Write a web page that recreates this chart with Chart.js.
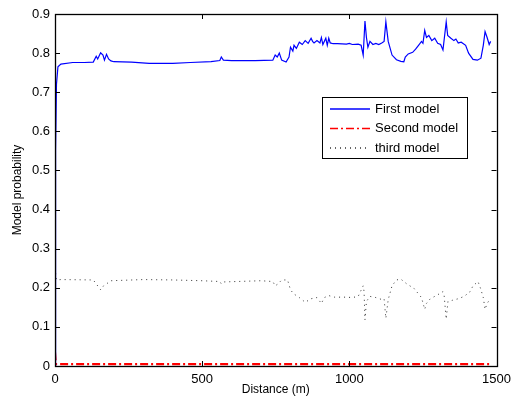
<!DOCTYPE html>
<html>
<head>
<meta charset="utf-8">
<script src="https://cdn.jsdelivr.net/npm/chart.js@4"></script>
<style>
  html, body { margin: 0; padding: 0; background: #fff; }
  #wrap { width: 517px; height: 405px; }
</style>
</head>
<body>
<div id="wrap"><canvas id="myChart" width="517" height="405"></canvas></div>
<script>
// Series data (distance in m, model probability)
const firstX = [0, 2, 5, 10, 20, 60, 100, 130, 140, 145, 155, 163, 168, 175, 182, 190, 200, 260, 320, 400, 460, 530, 560, 565, 572, 600, 680, 740, 748, 755, 762, 770, 785, 795, 800, 808, 812, 820, 830, 840, 850, 860, 870, 875, 880, 890, 900, 905, 910, 920, 925, 930, 935, 945, 960, 990, 1000, 1010, 1030, 1040, 1047, 1053, 1058, 1063, 1070, 1080, 1090, 1100, 1110, 1118, 1124, 1132, 1145, 1160, 1175, 1185, 1190, 1200, 1215, 1225, 1235, 1245, 1250, 1256, 1262, 1270, 1280, 1290, 1300, 1310, 1318, 1329, 1334, 1345, 1355, 1362, 1370, 1380, 1395, 1405, 1420, 1435, 1447, 1455, 1461, 1468, 1475, 1480];
const firstY = [0.0, 0.55, 0.72, 0.765, 0.772, 0.776, 0.776, 0.777, 0.792, 0.785, 0.801, 0.795, 0.782, 0.797, 0.785, 0.78, 0.778, 0.777, 0.774, 0.774, 0.776, 0.778, 0.781, 0.79, 0.782, 0.781, 0.781, 0.782, 0.795, 0.79, 0.80, 0.782, 0.777, 0.79, 0.815, 0.805, 0.82, 0.812, 0.828, 0.822, 0.832, 0.825, 0.838, 0.83, 0.826, 0.832, 0.826, 0.84, 0.822, 0.838, 0.82, 0.838, 0.826, 0.824, 0.824, 0.823, 0.825, 0.822, 0.823, 0.82, 0.795, 0.882, 0.84, 0.815, 0.83, 0.822, 0.825, 0.822, 0.826, 0.83, 0.880, 0.83, 0.795, 0.783, 0.779, 0.778, 0.79, 0.798, 0.802, 0.81, 0.82, 0.83, 0.825, 0.858, 0.84, 0.845, 0.832, 0.838, 0.825, 0.822, 0.808, 0.880, 0.845, 0.838, 0.832, 0.836, 0.826, 0.828, 0.82, 0.80, 0.784, 0.782, 0.787, 0.82, 0.855, 0.84, 0.822, 0.83];

const secondX = [0, 3, 1480];
const secondY = [0.035, 0.005, 0.005];

const thirdX = [0, 5, 20, 130, 140, 155, 165, 175, 190, 300, 400, 500, 560, 565, 575, 700, 740, 748, 758, 770, 790, 800, 810, 830, 850, 870, 890, 905, 915, 930, 950, 990, 1010, 1030, 1047, 1050, 1053, 1058, 1070, 1090, 1110, 1118, 1124, 1132, 1145, 1160, 1175, 1195, 1220, 1245, 1256, 1262, 1275, 1295, 1318, 1322, 1329, 1335, 1350, 1370, 1390, 1410, 1420, 1437, 1445, 1455, 1461, 1468, 1477];
const thirdY = [0.25, 0.22, 0.221, 0.22, 0.21, 0.195, 0.205, 0.21, 0.218, 0.221, 0.22, 0.218, 0.216, 0.21, 0.215, 0.218, 0.216, 0.205, 0.21, 0.22, 0.22, 0.195, 0.185, 0.175, 0.163, 0.172, 0.175, 0.16, 0.175, 0.18, 0.176, 0.176, 0.175, 0.178, 0.205, 0.19, 0.118, 0.165, 0.178, 0.175, 0.17, 0.172, 0.122, 0.17, 0.205, 0.22, 0.222, 0.21, 0.198, 0.175, 0.145, 0.16, 0.172, 0.18, 0.19, 0.18, 0.12, 0.165, 0.168, 0.172, 0.178, 0.19, 0.205, 0.216, 0.2, 0.175, 0.145, 0.16, 0.17];

const xTicks = [0, 500, 1000, 1500];
const yTicks = [0, 0.1, 0.2, 0.3, 0.4, 0.5, 0.6, 0.7, 0.8, 0.9];

const seriesNames = ['First model', 'Second model', 'third model'];
const seriesColors = ['#0000ff', '#ff0000', '#333333'];
const seriesDash = [[], [8, 3, 2, 3], [1, 4]];
const seriesWidth = [1.2, 2.2, 1];

const FONT = '"Liberation Sans", Arial, sans-serif';

function toPoints(xs, ys) {
    return xs.map((x, i) => ({ x: x, y: ys[i] }));
}

// Box around the plot and inward-pointing ticks, MATLAB style
const framePlugin = {
    id: 'frame',
    afterDatasetsDraw(chart) {
        const ctx = chart.ctx;
        const a = chart.chartArea;
        const xs = chart.scales.x;
        const ys = chart.scales.y;
        ctx.save();
        ctx.strokeStyle = '#000';
        ctx.lineWidth = 1;
        ctx.beginPath();
        xTicks.forEach(v => {
            const px = Math.round(xs.getPixelForValue(v)) + 0.5;
            ctx.moveTo(px, a.bottom); ctx.lineTo(px, a.bottom - 5);
            ctx.moveTo(px, a.top); ctx.lineTo(px, a.top + 5);
        });
        yTicks.forEach(v => {
            const py = Math.round(ys.getPixelForValue(v)) + 0.5;
            ctx.moveTo(a.left, py); ctx.lineTo(a.left + 5, py);
            ctx.moveTo(a.right, py); ctx.lineTo(a.right - 5, py);
        });
        ctx.stroke();
        ctx.lineWidth = 1.3;
        ctx.strokeRect(Math.round(a.left) + 0.5, Math.round(a.top) + 0.5,
            Math.round(a.right - a.left), Math.round(a.bottom - a.top));
        ctx.restore();
    },
    afterDraw(chart) {
        // Legend box inside the plot, upper right
        const ctx = chart.ctx;
        const bx = 322, by = 97, bw = 145, bh = 61;
        ctx.save();
        ctx.fillStyle = '#fff';
        ctx.fillRect(bx, by, bw, bh);
        ctx.strokeStyle = '#000';
        ctx.lineWidth = 1;
        ctx.strokeRect(bx + 0.5, by + 0.5, bw, bh);
        ctx.font = '13px ' + FONT;
        ctx.textBaseline = 'middle';
        seriesNames.forEach((name, i) => {
            const ly = by + 12 + i * 19.5;
            ctx.strokeStyle = seriesColors[i];
            ctx.lineWidth = 1.5;
            ctx.setLineDash(seriesDash[i]);
            ctx.beginPath();
            ctx.moveTo(bx + 8, ly);
            ctx.lineTo(bx + 48, ly);
            ctx.stroke();
            ctx.setLineDash([]);
            ctx.fillStyle = '#000';
            ctx.fillText(name, bx + 53, ly);
        });
        ctx.restore();
    }
};

const ctx = document.getElementById('myChart').getContext('2d');
const myChart = new Chart(ctx, {
    type: 'scatter',
    data: {
        datasets: [
            { label: seriesNames[0], data: toPoints(firstX, firstY) },
            { label: seriesNames[1], data: toPoints(secondX, secondY) },
            { label: seriesNames[2], data: toPoints(thirdX, thirdY) }
        ].map((d, i) => Object.assign(d, {
            showLine: true,
            borderColor: seriesColors[i],
            borderWidth: seriesWidth[i],
            borderDash: seriesDash[i],
            pointRadius: 0,
            tension: 0,
            fill: false
        }))
    },
    options: {
        responsive: false,
        animation: false,
        layout: { padding: { top: 14, right: 15, left: 0, bottom: 0 } },
        plugins: {
            legend: { display: false },
            tooltip: { enabled: false }
        },
        scales: {
            x: {
                type: 'linear',
                min: 0, max: 1500,
                afterBuildTicks: s => { s.ticks = xTicks.map(v => ({ value: v })); },
                afterFit: s => { s.height = 39; },
                grid: { display: false, drawTicks: false },
                border: { display: false },
                ticks: { color: '#000', padding: 6, font: { family: FONT, size: 13 }, maxRotation: 0, callback: v => String(v) },
                title: { display: true, text: 'Distance (m)', color: '#000', padding: { top: 2, bottom: 8 }, font: { family: FONT, size: 12 } }
            },
            y: {
                min: 0, max: 0.9,
                afterBuildTicks: s => { s.ticks = yTicks.map(v => ({ value: v })); },
                afterFit: s => { s.width = 55; },
                grid: { display: false, drawTicks: false },
                border: { display: false },
                ticks: {
                    color: '#000', padding: 5, font: { family: FONT, size: 13 },
                    callback: v => (v === 0 ? '0' : v.toFixed(1))
                },
                title: { display: true, text: 'Model probability', color: '#000', padding: { top: 10, bottom: 4 }, font: { family: FONT, size: 12 } }
            }
        }
    },
    plugins: [framePlugin]
});
</script>
</body>
</html>
